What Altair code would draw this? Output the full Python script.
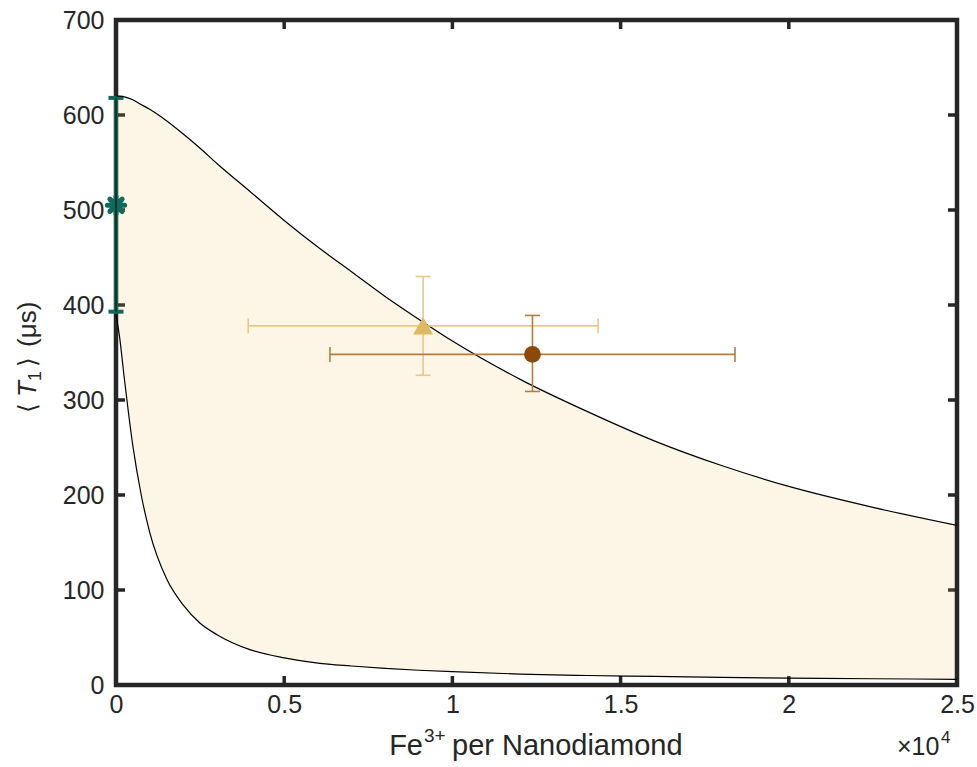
import altair as alt
import pandas as pd

# ---- curve data ----
x_grid = [0, 100, 250, 500, 750, 1000, 1500, 2000, 2500, 3000, 4000, 5000, 6000,
          7000, 8000, 9000, 10000, 12000, 14000, 16000, 18000, 20000, 22500, 25000]
upper_T1 = [620, 619.8, 619, 616, 611, 606, 594, 580, 565, 549, 519, 489, 461,
            435, 409, 385, 362, 322, 288, 257, 231, 209, 187, 168]
lower_T1 = [390, 368, 322, 252, 200, 161, 112, 84, 65, 53, 37, 28.5, 23,
            20, 17.5, 15.5, 14, 11.5, 10, 9, 8, 7.3, 6.6, 6]

# ---- measured points ----
pt_name = ["green", "triangle", "circle"]
pt_x = [0, 9130, 12380]
pt_y = [505, 378, 348]
pt_xlo = [0, 3930, 6360]
pt_xhi = [0, 14330, 18400]
pt_ylo = [393, 326, 309]
pt_yhi = [618, 430, 389]

x_ticks = [0, 5000, 10000, 15000, 20000, 25000]
y_ticks = [0, 100, 200, 300, 400, 500, 600, 700]

curves = pd.DataFrame({"x": x_grid, "up": upper_T1, "lo": lower_T1})
pts = pd.DataFrame({"name": pt_name, "x": pt_x, "y": pt_y, "xlo": pt_xlo,
                    "xhi": pt_xhi, "ylo": pt_ylo, "yhi": pt_yhi})
xt = pd.DataFrame({"t": x_ticks})
yt = pd.DataFrame({"t": y_ticks})
one = pd.DataFrame({"a": [0]})

FONT = "Liberation Sans"
TXT = "#262626"
W, H = 841, 665

xs = alt.Scale(domain=[0, 25000], nice=False, zero=False)
ys = alt.Scale(domain=[0, 700], nice=False, zero=False)
x_axis = alt.Axis(values=x_ticks, labelExpr="datum.value / 10000", ticks=False,
                  domain=False, grid=False, labelFontSize=25, labelColor=TXT,
                  labelFont=FONT, labelPadding=7, title=None, labelFlush=False)
y_axis = alt.Axis(values=y_ticks, ticks=False, domain=False, grid=False,
                  labelFontSize=25, labelColor=TXT, labelFont=FONT, labelPadding=12,
                  title=None, labelFlush=False)


def X(f):
    return alt.X(f, type="quantitative", scale=xs, axis=x_axis)


def Y(f):
    return alt.Y(f, type="quantitative", scale=ys, axis=y_axis)


TK = 9
tick_w = 3.5
bottom_ticks = alt.Chart(xt).mark_rule(color=TXT, strokeWidth=tick_w).encode(
    x=X("t"), y=alt.value(H), y2=alt.value(H - TK))
top_ticks = alt.Chart(xt).mark_rule(color=TXT, strokeWidth=tick_w).encode(
    x=X("t"), y=alt.value(0), y2=alt.value(TK))
left_ticks = alt.Chart(yt).mark_rule(color=TXT, strokeWidth=tick_w).encode(
    y=Y("t"), x=alt.value(0), x2=alt.value(TK))
right_ticks = alt.Chart(yt).mark_rule(color=TXT, strokeWidth=tick_w).encode(
    y=Y("t"), x=alt.value(W), x2=alt.value(W - TK))

area = alt.Chart(curves).mark_area(color="#F2C358", opacity=0.15,
                                   interpolate="monotone").encode(
    x=X("x"), y=Y("lo"), y2="up")
line_up = alt.Chart(curves).mark_line(color="black", strokeWidth=1.2,
                                      interpolate="monotone").encode(x=X("x"), y=Y("up"))
line_lo = alt.Chart(curves).mark_line(color="black", strokeWidth=1.2,
                                      interpolate="monotone").encode(x=X("x"), y=Y("lo"))

frame = alt.Chart(one).mark_rect(fill=None, stroke=TXT, strokeWidth=4.5).encode(
    x=alt.value(0), x2=alt.value(W), y=alt.value(0), y2=alt.value(H))

GREEN = "#0E6B5C"
g = pts[pts.name == "green"]
g_bar = alt.Chart(g).mark_rule(color=GREEN, strokeWidth=4).encode(
    x=X("x"), y=Y("ylo"), y2="yhi")
g_cap_lo = alt.Chart(g).mark_tick(color=GREEN, orient="horizontal", size=15,
                                  thickness=4, opacity=1).encode(x=X("x"), y=Y("ylo"))
g_cap_hi = alt.Chart(g).mark_tick(color=GREEN, orient="horizontal", size=15,
                                  thickness=4, opacity=1).encode(x=X("x"), y=Y("yhi"))
edge0 = alt.Chart(g).mark_rule(color="black", strokeWidth=1).encode(
    x=X("x"), y=Y("ylo"), y2="yhi")
asterisk = ("M0,-1L0,1M-1,0L1,0M-0.707,-0.707L0.707,0.707"
            "M-0.707,0.707L0.707,-0.707")
g_pt = alt.Chart(g).mark_point(shape=asterisk, filled=False, color=GREEN,
                               strokeWidth=5, size=300, opacity=1,
                               strokeCap="round").encode(
    x=X("x"), y=Y("y"))


def errbars(df, col, mcol, shape, size):
    bar_kw = dict(color=col, strokeWidth=1.6)
    cap_kw = dict(color=col, size=15, thickness=1.6, opacity=1)
    v = alt.Chart(df).mark_rule(**bar_kw).encode(x=X("x"), y=Y("ylo"), y2="yhi")
    h = alt.Chart(df).mark_rule(**bar_kw).encode(x=X("xlo"), x2="xhi", y=Y("y"))
    c1 = alt.Chart(df).mark_tick(orient="horizontal", **cap_kw).encode(x=X("x"), y=Y("ylo"))
    c2 = alt.Chart(df).mark_tick(orient="horizontal", **cap_kw).encode(x=X("x"), y=Y("yhi"))
    c3 = alt.Chart(df).mark_tick(orient="vertical", **cap_kw).encode(x=X("xlo"), y=Y("y"))
    c4 = alt.Chart(df).mark_tick(orient="vertical", **cap_kw).encode(x=X("xhi"), y=Y("y"))
    m = alt.Chart(df).mark_point(shape=shape, filled=True, color=mcol, size=size,
                                 opacity=1).encode(x=X("x"), y=Y("y"))
    return [v, h, c1, c2, c3, c4, m]


tri = pts[pts.name == "triangle"]
cir = pts[pts.name == "circle"]
tri_layers = errbars(tri, "#E8C987", "#E0B862", "triangle-up", 400)
cir_layers = errbars(cir, "#B57D3C", "#8B4A0C", "circle", 280)

# ---- axis titles built from text pieces (superscript, italic, subscript) ----
lab_df = pd.DataFrame({"fe": ["Fe"], "sup": ["3+"], "rest": ["per Nanodiamond"],
                       "m": ["×10"], "p": ["4"], "lb": ["⟨"], "T": ["T"],
                       "one": ["1"], "rb": ["⟩"], "unit": ["(μs)"]})


def txt(field, x, y, size, align="left", angle=0, style="normal"):
    return alt.Chart(lab_df).mark_text(font=FONT, fontSize=size, color=TXT,
                                       align=align, baseline="alphabetic",
                                       angle=angle, fontStyle=style).encode(
        text=f"{field}:N", x=alt.value(x), y=alt.value(y))


TB = H + 70  # baseline of x title
xtitle = [
    txt("fe", 307, TB, 29, align="right"),
    txt("sup", 308, TB - 13, 19),
    txt("rest", 336, TB, 29),
    txt("m", W - 60, TB, 25),
    txt("p", W - 16, TB - 12, 17),
]
YB = -80  # baseline (x) of rotated y title, relative to plot
ytitle = [
    txt("lb", YB, 393, 25, angle=270),
    txt("T", YB, 377, 26, angle=270, style="italic"),
    txt("one", YB + 5, 361, 18, angle=270),
    txt("rb", YB, 347, 25, angle=270),
    txt("unit", YB, 327, 26, angle=270),
]

chart = alt.layer(
    bottom_ticks, top_ticks, left_ticks, right_ticks,
    area, frame, g_bar, g_cap_lo, g_cap_hi, g_pt, line_up, line_lo, edge0,
    *tri_layers, *cir_layers, *xtitle, *ytitle
).properties(
    width=W, height=H,
    autosize=alt.AutoSizeParams(type="none"),
    padding={"left": 116, "top": 20, "right": 20, "bottom": 82},
    background="white",
).configure_view(stroke=None)

chart.save("out.html", embed_options={"renderer": "svg", "actions": False})
